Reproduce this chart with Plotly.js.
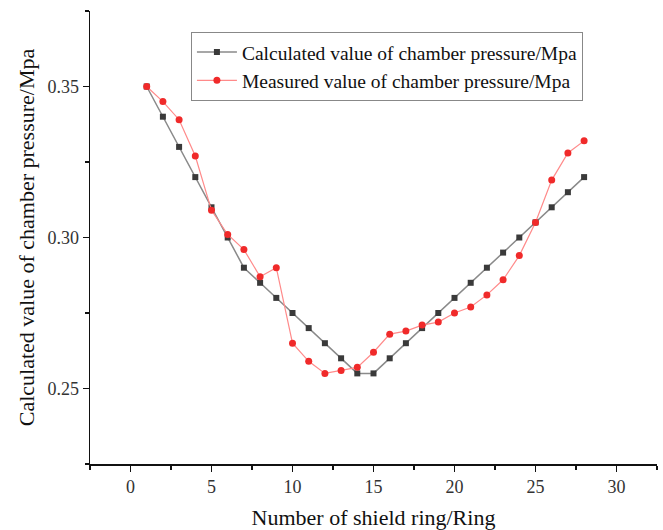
<!DOCTYPE html>
<html>
<head>
<meta charset="utf-8">
<script src="https://cdn.plot.ly/plotly-3.0.1.min.js"></script>
<style>html,body{margin:0;padding:0;background:#fff;}#chart{width:663px;height:530px;}</style>
</head>
<body>
<div id="chart"></div>
<script>
const rings = [1,2,3,4,5,6,7,8,9,10,11,12,13,14,15,16,17,18,19,20,21,22,23,24,25,26,27,28];
const calculated = [0.350,0.340,0.330,0.320,0.310,0.300,0.290,0.285,0.280,0.275,0.270,0.265,0.260,0.255,0.255,0.260,0.265,0.270,0.275,0.280,0.285,0.290,0.295,0.300,0.305,0.310,0.315,0.320];
const measured = [0.350,0.345,0.339,0.327,0.309,0.301,0.296,0.287,0.290,0.265,0.259,0.255,0.256,0.257,0.262,0.268,0.269,0.271,0.272,0.275,0.277,0.281,0.286,0.294,0.305,0.319,0.328,0.332];
const xTicks = [0,5,10,15,20,25,30];
const yTicks = [0.25,0.30,0.35];
const yTickText = ['0.25','0.30','0.35'];
const seriesNames = ['Calculated value of chamber pressure/Mpa','Measured value of chamber pressure/Mpa'];

const font = 'Liberation Serif, Times New Roman, serif';
const traces = [
  {x: rings, y: calculated, name: seriesNames[0], type: 'scatter', mode: 'lines+markers',
   line: {color: '#8a8a8a', width: 1.5},
   marker: {symbol: 'square', size: 6, color: '#3a3a3a'}},
  {x: rings, y: measured, name: seriesNames[1], type: 'scatter', mode: 'lines+markers',
   line: {color: '#ff8a8a', width: 1.2},
   marker: {symbol: 'circle', size: 7, color: '#f02a2a'}}
];
const layout = {
  width: 663, height: 530,
  margin: {l: 90, r: 6, t: 11, b: 66},
  paper_bgcolor: '#fff', plot_bgcolor: '#fff',
  font: {family: font, color: '#222'},
  showlegend: true,
  legend: {x: 0.178, y: 0.954, xanchor: 'left', yanchor: 'top',
    bgcolor: 'rgba(255,255,255,0)', bordercolor: '#888', borderwidth: 1,
    font: {family: font, size: 19.5, color: '#111'}, tracegroupgap: 0, itemwidth: 40},
  xaxis: {range: [-2.5, 32.5], tickvals: xTicks, ticktext: xTicks.map(String),
    showgrid: false, zeroline: false, showline: true, linecolor: '#111', linewidth: 1.5,
    ticks: 'outside', ticklen: 6, tickwidth: 1.5, tickcolor: '#111',
    minor: {dtick: 2.5, tick0: 0, ticks: 'outside', ticklen: 4, tickwidth: 1.2, tickcolor: '#111', showgrid: false},
    tickfont: {family: font, size: 18, color: '#333'},
    title: {text: 'Number of shield ring/Ring', font: {family: font, size: 22, color: '#111'}, standoff: 13}},
  yaxis: {range: [0.225, 0.375], tickvals: yTicks, ticktext: yTickText,
    showgrid: false, zeroline: false, showline: true, linecolor: '#111', linewidth: 1.5,
    ticks: 'outside', ticklen: 6, tickwidth: 1.5, tickcolor: '#111',
    minor: {dtick: 0.025, tick0: 0.225, ticks: 'outside', ticklen: 4, tickwidth: 1.2, tickcolor: '#111', showgrid: false},
    tickfont: {family: font, size: 18, color: '#333'},
    title: {text: 'Calculated value of chamber pressure/Mpa', font: {family: font, size: 22, color: '#111'}, standoff: 6}}
};
Plotly.newPlot('chart', traces, layout, {displayModeBar: false, staticPlot: true});
</script>
</body>
</html>
